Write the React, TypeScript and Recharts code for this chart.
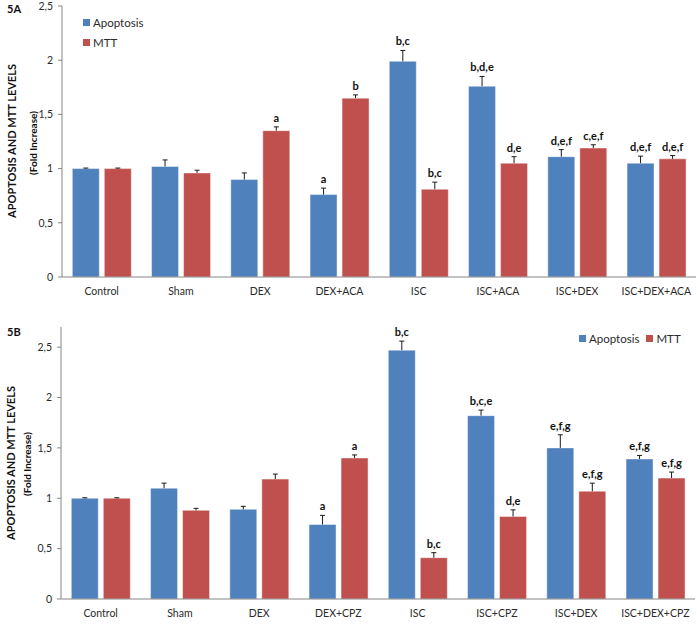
import React from "react";
import { BarChart, Bar, XAxis, YAxis, LabelList, Legend } from "recharts";

const categoriesA = ["Control", "Sham", "DEX", "DEX+ACA", "ISC", "ISC+ACA", "ISC+DEX", "ISC+DEX+ACA"];
const apoptosisA = [1.0, 1.02, 0.9, 0.76, 1.99, 1.76, 1.11, 1.05];
const apoptosisErrA = [0.005, 0.06, 0.06, 0.06, 0.1, 0.09, 0.065, 0.065];
const apoptosisLblA = ["", "", "", "a", "b,c", "b,d,e", "d,e,f", "d,e,f"];
const mttA = [1.0, 0.96, 1.35, 1.65, 0.81, 1.05, 1.19, 1.09];
const mttErrA = [0.005, 0.025, 0.035, 0.03, 0.065, 0.06, 0.03, 0.03];
const mttLblA = ["", "", "a", "b", "b,c", "d,e", "c,e,f", "d,e,f"];

const categoriesB = ["Control", "Sham", "DEX", "DEX+CPZ", "ISC", "ISC+CPZ", "ISC+DEX", "ISC+DEX+CPZ"];
const apoptosisB = [1.0, 1.1, 0.89, 0.74, 2.47, 1.82, 1.5, 1.39];
const apoptosisErrB = [0.005, 0.05, 0.03, 0.09, 0.09, 0.055, 0.13, 0.035];
const apoptosisLblB = ["", "", "", "a", "b,c", "b,c,e", "e,f,g", "e,f,g"];
const mttB = [1.0, 0.88, 1.19, 1.4, 0.41, 0.82, 1.07, 1.2];
const mttErrB = [0.005, 0.02, 0.05, 0.03, 0.05, 0.065, 0.08, 0.06];
const mttLblB = ["", "", "", "a", "b,c", "d,e", "e,f,g", "e,f,g"];

const yTicksA = [0, 0.5, 1, 1.5, 2, 2.5];
const yTicksB = [0, 0.5, 1, 1.5, 2, 2.5];
const edgeTicks = [0, 1, 2, 3, 4, 5, 6, 7, 8];

const BLUE = "#4F81BD";
const RED = "#C0504D";
const AXIS = "#868686";
const TEXT = "#2b2b2b";
const FONT = "Lato, 'Open Sans', sans-serif";

function buildRows(cats: string[], apop: number[], apopErr: number[], apopLbl: string[], mtt: number[], mttErr: number[], mttLbl: string[]) {
  return cats.map((name, i) => ({
    name,
    apop: apop[i],
    apopErr: apopErr[i],
    apopLbl: apopLbl[i],
    mtt: mtt[i],
    mttErr: mttErr[i],
    mttLbl: mttLbl[i],
  }));
}

const rowsA = buildRows(categoriesA, apoptosisA, apoptosisErrA, apoptosisLblA, mttA, mttErrA, mttLblA);
const rowsB = buildRows(categoriesB, apoptosisB, apoptosisErrB, apoptosisLblB, mttB, mttErrB, mttLblB);

function makeAnno(rows: any[], valKey: string, errKey: string) {
  return (props: any) => {
    const vb = props.viewBox || props;
    const { x, y, width, height } = vb;
    const row = rows[props.index];
    if (!row || x == null) return null;
    const v = row[valKey];
    const err = row[errKey];
    const ppu = height / v;
    const cx = x + width / 2;
    const top = y - err * ppu;
    const label = props.value;
    return (
      <g>
        <line x1={cx} x2={cx} y1={y} y2={top} stroke="#1a1a1a" strokeWidth={1} />
        <line x1={cx - 2.5} x2={cx + 2.5} y1={top} y2={top} stroke="#1a1a1a" strokeWidth={1} />
        {label ? (
          <text x={cx} y={top - 5} textAnchor="middle" fontFamily={FONT} fontSize={11} fontWeight={700} fill="#111">
            {label}
          </text>
        ) : null}
      </g>
    );
  };
}

const fmt = (v: number) => String(v).replace(".", ",");

const LegendVertical = (props: any) => {
  const items = props.payload || [];
  return (
    <div style={{ fontFamily: FONT, fontSize: 11.5, color: TEXT }}>
      {items.map((it: any) => (
        <div key={it.value} style={{ display: "flex", alignItems: "center", height: 20 }}>
          <span style={{ display: "inline-block", width: 7, height: 7, background: it.color, marginRight: 3 }} />
          <span>{it.value}</span>
        </div>
      ))}
    </div>
  );
};

const LegendHorizontal = (props: any) => {
  const items = props.payload || [];
  return (
    <div style={{ fontFamily: FONT, fontSize: 11.5, color: TEXT, display: "flex", alignItems: "center", whiteSpace: "nowrap" }}>
      {items.map((it: any) => (
        <div key={it.value} style={{ display: "flex", alignItems: "center", marginRight: 7 }}>
          <span style={{ display: "inline-block", width: 7, height: 7, background: it.color, marginRight: 3 }} />
          <span>{it.value}</span>
        </div>
      ))}
    </div>
  );
};

function Panel(props: { rows: any[]; height: number; yMax: number; yTicks: number[]; margin: any; legend: "v" | "h" }) {
  const { rows, height, yMax, yTicks, margin, legend } = props;
  return (
    <BarChart width={697} height={height} data={rows} margin={margin} barCategoryGap="13%" barGap={5}>
      <XAxis
        xAxisId="edge"
        type="number"
        domain={[0, 8]}
        ticks={edgeTicks}
        allowDataOverflow
        interval={0}
        axisLine={false}
        tick={false}
        tickLine={{ stroke: AXIS }}
        tickSize={5}
        height={0}
      />
      <XAxis
        xAxisId="cat"
        dataKey="name"
        interval={0}
        axisLine={{ stroke: AXIS }}
        tickLine={false}
        tickSize={5}
        tickMargin={6}
        height={23}
        tick={{ fontFamily: FONT, fontSize: 10.5, fill: TEXT }}
      />
      <YAxis
        domain={[0, yMax]}
        ticks={yTicks}
        allowDataOverflow
        interval={0}
        tickFormatter={fmt}
        width={40}
        axisLine={{ stroke: AXIS }}
        tickLine={{ stroke: AXIS }}
        tickSize={4}
        tickMargin={5}
        tick={{ fontFamily: FONT, fontSize: 10.5, fill: TEXT }}
      />
      {legend === "v" ? (
        <Legend
          layout="vertical"
          align="center"
          verticalAlign="middle"
          content={LegendVertical}
          wrapperStyle={{ left: 83, top: 12, width: 100, height: 40 }}
        />
      ) : (
        <Legend
          layout="vertical"
          align="center"
          verticalAlign="middle"
          content={LegendHorizontal}
          wrapperStyle={{ left: 579, top: 32, width: 115, height: 16 }}
        />
      )}
      <Bar xAxisId="cat" dataKey="apop" name="Apoptosis" fill={BLUE} stroke="#ffffff" strokeOpacity={0.45} isAnimationActive={false}>
        <LabelList dataKey="apopLbl" content={makeAnno(rows, "apop", "apopErr")} />
      </Bar>
      <Bar xAxisId="cat" dataKey="mtt" name="MTT" fill={RED} stroke="#ffffff" strokeOpacity={0.45} isAnimationActive={false}>
        <LabelList dataKey="mttLbl" content={makeAnno(rows, "mtt", "mttErr")} />
      </Bar>
    </BarChart>
  );
}

export default function App() {
  return (
    <div style={{ position: "absolute", left: 0, top: 0, width: 697, height: 639, background: "#fff", fontFamily: FONT }}>
      <div style={{ position: "absolute", left: 0, top: 0 }}>
        <Panel rows={rowsA} height={300} yMax={2.5} yTicks={yTicksA} margin={{ top: 6, right: 1, bottom: 0, left: 22 }} legend="v" />
      </div>
      <div style={{ position: "absolute", left: 0, top: 300 }}>
        <Panel rows={rowsB} height={339} yMax={2.7} yTicks={yTicksB} margin={{ top: 27, right: 2, bottom: 17, left: 21 }} legend="h" />
      </div>
      <svg width={697} height={639} style={{ position: "absolute", left: 0, top: 0, pointerEvents: "none" }}>
        <text x={7} y={13} fontFamily={FONT} fontSize={11} fontWeight={700} fill="#111">5A</text>
        <text x={7} y={336} fontFamily={FONT} fontSize={11} fontWeight={700} fill="#111">5B</text>
        <text transform="translate(16,141) rotate(-90)" textAnchor="middle" fontFamily={FONT} fontSize={11} fontWeight={700} fill="#111">
          APOPTOSIS AND MTT LEVELS
        </text>
        <text transform="translate(36.5,143) rotate(-90)" textAnchor="middle" fontFamily={FONT} fontSize={10} fontWeight={700} fill="#111">
          (Fold Increase)
        </text>
        <text transform="translate(15,463) rotate(-90)" textAnchor="middle" fontFamily={FONT} fontSize={11} fontWeight={700} fill="#111">
          APOPTOSIS AND MTT LEVELS
        </text>
        <text transform="translate(30.5,464) rotate(-90)" textAnchor="middle" fontFamily={FONT} fontSize={10} fontWeight={700} fill="#111">
          (Fold Increase)
        </text>
      </svg>
    </div>
  );
}
